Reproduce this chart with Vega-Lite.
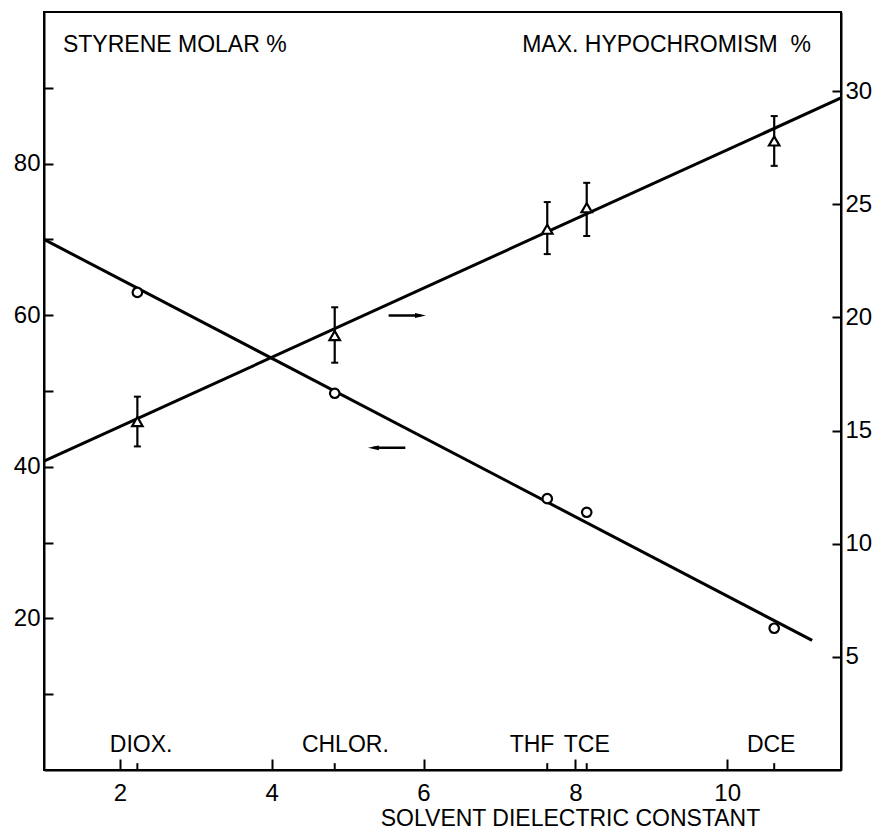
{
  "$schema": "https://vega.github.io/schema/vega-lite/v6.json",
  "width": 797,
  "height": 758,
  "autosize": "none",
  "padding": {"left": 44, "top": 12, "right": 36, "bottom": 60},
  "background": "white",
  "config": {
    "view": {"stroke": "black", "strokeWidth": 2},
    "font": "Liberation Sans",
    "axis": {
      "grid": false,
      "domainColor": "black",
      "domainWidth": 2,
      "tickColor": "black",
      "tickWidth": 2,
      "labelColor": "black",
      "labelFont": "Liberation Sans",
      "labelFontSize": 24,
      "titleColor": "black",
      "titleFont": "Liberation Sans",
      "titleFontWeight": "normal",
      "titleFontSize": 23
    }
  },
  "datasets": {
    "solvents": [
      {"solvent": "DIOX.", "eps": 2.23, "styrene": 63.0, "hypo": 15.4, "hypo_lo": 14.3, "hypo_hi": 16.5},
      {"solvent": "CHLOR.", "eps": 4.83, "styrene": 49.7, "hypo": 19.2, "hypo_lo": 18.0, "hypo_hi": 20.45},
      {"solvent": "THF", "eps": 7.63, "styrene": 35.8, "hypo": 23.9, "hypo_lo": 22.8, "hypo_hi": 25.1},
      {"solvent": "TCE", "eps": 8.15, "styrene": 34.0, "hypo": 24.85, "hypo_lo": 23.6, "hypo_hi": 25.95},
      {"solvent": "DCE", "eps": 10.62, "styrene": 18.7, "hypo": 27.8, "hypo_lo": 26.7, "hypo_hi": 28.9}
    ],
    "fitStyrene": [
      {"eps": 1.0, "value": 70.0},
      {"eps": 11.12, "value": 17.1}
    ],
    "fitHypo": [
      {"eps": 1.0, "value": 13.65},
      {"eps": 11.5, "value": 29.7}
    ],
    "solventLabels": [
      {"label": "DIOX.", "eps": 2.28},
      {"label": "CHLOR.", "eps": 4.97},
      {"label": "THF", "eps": 7.43},
      {"label": "TCE", "eps": 8.15},
      {"label": "DCE", "eps": 10.58}
    ],
    "headings": [
      {"text": "STYRENE MOLAR %", "eps": 1.25, "value": 94.7},
      {"text": "MAX. HYPOCHROMISM\u00a0\u00a0%", "eps": 7.3, "value": 94.7}
    ],
    "arrowRight": [
      {"eps": 5.54, "eps2": 5.96, "value": 59.97}
    ],
    "arrowLeft": [
      {"eps": 5.34, "eps2": 5.76, "value": 42.5}
    ]
  },
  "layer": [
    {
      "layer": [
        {
          "data": {"name": "fitStyrene"},
          "mark": {"type": "line", "color": "black", "strokeWidth": 3},
          "encoding": {
            "x": {
              "field": "eps", "type": "quantitative",
              "scale": {"domain": [1, 11.5], "nice": false, "zero": false},
              "axis": {
                "values": [2, 4, 6, 8, 10],
                "format": "d",
                "tickSize": -11,
                "labelPadding": 22,
                "title": "SOLVENT DIELECTRIC CONSTANT",
                "titleX": 526,
                "titleY": 55,
                "titleAlign": "center",
                "titleBaseline": "alphabetic",
                "titleAnchor": null
              }
            },
            "y": {
              "field": "value", "type": "quantitative",
              "scale": {"domain": [0, 100], "nice": false, "zero": false},
              "axis": {
                "orient": "left",
                "values": [10, 20, 30, 40, 50, 60, 70, 80, 90],
                "labelExpr": "datum.value % 20 == 0 ? datum.label : ''",
                "tickSize": -9,
                "labelPadding": 13,
                "title": null
              }
            }
          }
        },
        {
          "data": {"name": "solvents"},
          "mark": {"type": "rule", "color": "black", "strokeWidth": 2},
          "encoding": {
            "x": {"field": "eps", "type": "quantitative", "scale": {"domain": [1, 11.5], "nice": false, "zero": false}},
            "y": {"datum": 0, "type": "quantitative", "scale": {"domain": [0, 100], "nice": false, "zero": false}},
            "y2": {"datum": 0.9}
          }
        },
        {
          "data": {"name": "solvents"},
          "mark": {"type": "point", "shape": "circle", "filled": false, "fill": "white", "fillOpacity": 1, "stroke": "black", "strokeWidth": 2.2, "size": 90, "opacity": 1},
          "encoding": {
            "x": {"field": "eps", "type": "quantitative", "scale": {"domain": [1, 11.5], "nice": false, "zero": false}},
            "y": {"field": "styrene", "type": "quantitative", "scale": {"domain": [0, 100], "nice": false, "zero": false}}
          }
        },
        {
          "data": {"name": "solventLabels"},
          "mark": {"type": "text", "align": "center", "baseline": "alphabetic", "fontSize": 23, "color": "black", "font": "Liberation Sans"},
          "encoding": {
            "x": {"field": "eps", "type": "quantitative", "scale": {"domain": [1, 11.5], "nice": false, "zero": false}},
            "y": {"datum": 2.4, "type": "quantitative", "scale": {"domain": [0, 100], "nice": false, "zero": false}},
            "text": {"field": "label"}
          }
        },
        {
          "data": {"name": "headings"},
          "mark": {"type": "text", "align": "left", "baseline": "alphabetic", "fontSize": 23, "color": "black", "font": "Liberation Sans"},
          "encoding": {
            "x": {"field": "eps", "type": "quantitative", "scale": {"domain": [1, 11.5], "nice": false, "zero": false}},
            "y": {"field": "value", "type": "quantitative", "scale": {"domain": [0, 100], "nice": false, "zero": false}},
            "text": {"field": "text"}
          }
        },
        {
          "data": {"name": "arrowRight"},
          "layer": [
            {
              "mark": {"type": "rule", "color": "black", "strokeWidth": 2.5},
              "encoding": {
                "x": {"field": "eps", "type": "quantitative", "scale": {"domain": [1, 11.5], "nice": false, "zero": false}},
                "x2": {"field": "eps2"},
                "y": {"field": "value", "type": "quantitative", "scale": {"domain": [0, 100], "nice": false, "zero": false}}
              }
            },
            {
              "mark": {"type": "point", "shape": "M-1,-0.45L1,0L-1,0.45Z", "filled": true, "color": "black", "size": 120, "opacity": 1},
              "encoding": {
                "x": {"field": "eps2", "type": "quantitative", "scale": {"domain": [1, 11.5], "nice": false, "zero": false}},
                "y": {"field": "value", "type": "quantitative", "scale": {"domain": [0, 100], "nice": false, "zero": false}}
              }
            }
          ]
        },
        {
          "data": {"name": "arrowLeft"},
          "layer": [
            {
              "mark": {"type": "rule", "color": "black", "strokeWidth": 2.5},
              "encoding": {
                "x": {"field": "eps", "type": "quantitative", "scale": {"domain": [1, 11.5], "nice": false, "zero": false}},
                "x2": {"field": "eps2"},
                "y": {"field": "value", "type": "quantitative", "scale": {"domain": [0, 100], "nice": false, "zero": false}}
              }
            },
            {
              "mark": {"type": "point", "shape": "M1,-0.45L-1,0L1,0.45Z", "filled": true, "color": "black", "size": 120, "opacity": 1},
              "encoding": {
                "x": {"field": "eps", "type": "quantitative", "scale": {"domain": [1, 11.5], "nice": false, "zero": false}},
                "y": {"field": "value", "type": "quantitative", "scale": {"domain": [0, 100], "nice": false, "zero": false}}
              }
            }
          ]
        }
      ]
    },
    {
      "layer": [
        {
          "data": {"name": "fitHypo"},
          "mark": {"type": "line", "color": "black", "strokeWidth": 3},
          "encoding": {
            "x": {"field": "eps", "type": "quantitative", "scale": {"domain": [1, 11.5], "nice": false, "zero": false}},
            "y": {
              "field": "value", "type": "quantitative",
              "scale": {"domain": [0, 33.5], "nice": false, "zero": false},
              "axis": {
                "orient": "right",
                "values": [5, 10, 15, 20, 25, 30],
                "tickSize": -9,
                "labelPadding": 13,
                "title": null
              }
            }
          }
        },
        {
          "data": {"name": "solvents"},
          "mark": {"type": "rule", "color": "black", "strokeWidth": 2.2},
          "encoding": {
            "x": {"field": "eps", "type": "quantitative", "scale": {"domain": [1, 11.5], "nice": false, "zero": false}},
            "y": {"field": "hypo_lo", "type": "quantitative", "scale": {"domain": [0, 33.5], "nice": false, "zero": false}},
            "y2": {"field": "hypo_hi"}
          }
        },
        {
          "data": {"name": "solvents"},
          "mark": {"type": "tick", "orient": "horizontal", "color": "black", "size": 7, "thickness": 2, "opacity": 1},
          "encoding": {
            "x": {"field": "eps", "type": "quantitative", "scale": {"domain": [1, 11.5], "nice": false, "zero": false}},
            "y": {"field": "hypo_lo", "type": "quantitative", "scale": {"domain": [0, 33.5], "nice": false, "zero": false}}
          }
        },
        {
          "data": {"name": "solvents"},
          "mark": {"type": "tick", "orient": "horizontal", "color": "black", "size": 7, "thickness": 2, "opacity": 1},
          "encoding": {
            "x": {"field": "eps", "type": "quantitative", "scale": {"domain": [1, 11.5], "nice": false, "zero": false}},
            "y": {"field": "hypo_hi", "type": "quantitative", "scale": {"domain": [0, 33.5], "nice": false, "zero": false}}
          }
        },
        {
          "data": {"name": "solvents"},
          "mark": {"type": "point", "shape": "triangle-up", "filled": false, "fill": "white", "fillOpacity": 1, "stroke": "black", "strokeWidth": 2.2, "size": 110, "opacity": 1},
          "encoding": {
            "x": {"field": "eps", "type": "quantitative", "scale": {"domain": [1, 11.5], "nice": false, "zero": false}},
            "y": {"field": "hypo", "type": "quantitative", "scale": {"domain": [0, 33.5], "nice": false, "zero": false}}
          }
        }
      ]
    }
  ],
  "resolve": {"scale": {"y": "independent"}}
}
